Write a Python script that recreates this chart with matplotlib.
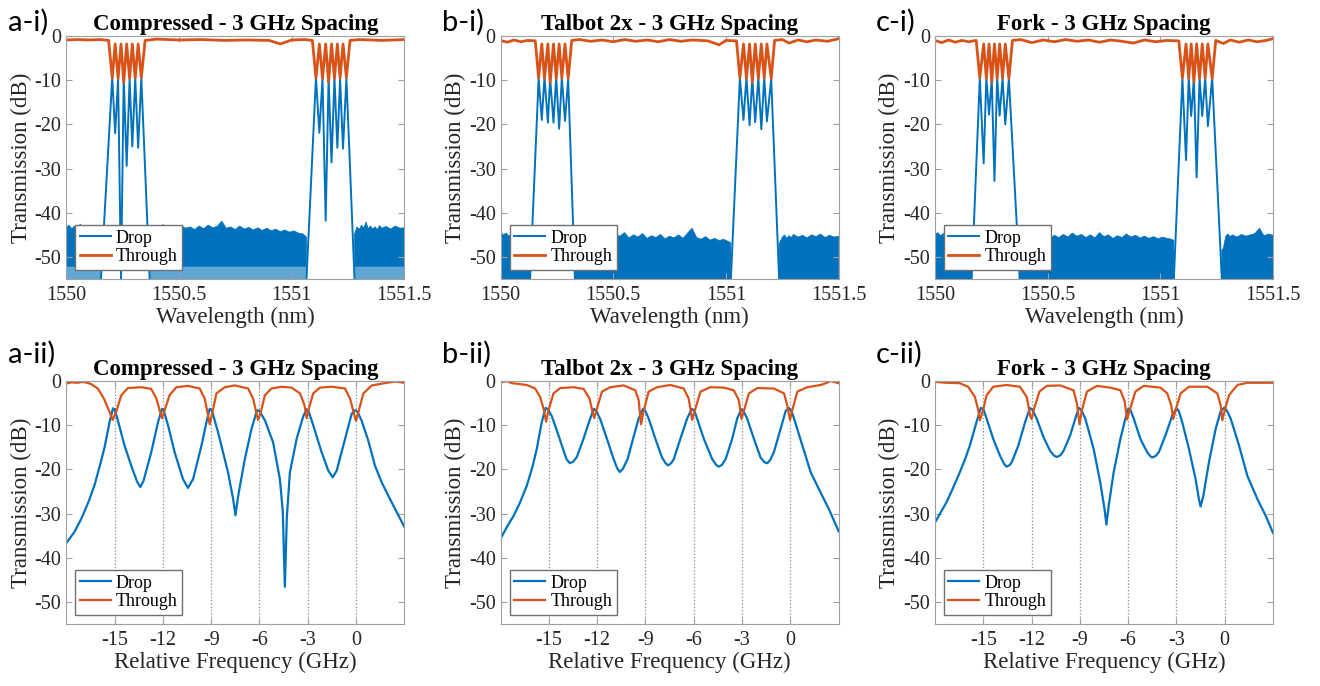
import numpy as np
import matplotlib
matplotlib.use('Agg')
import matplotlib.pyplot as plt

plt.rcParams['font.family'] = 'Liberation Serif'
plt.rcParams['axes.unicode_minus'] = False

BLUE = '#0072BD'
ORANGE = '#D95319'
FRAME = '#a0a0a0'
TXT = '#262626'

# ---------------- shared axes settings ----------------
wl_lim = [1550.0, 1551.5]
wl_ticks = [1550, 1550.5, 1551, 1551.5]
f_lim = [-18, 3]
f_ticks = [-15, -12, -9, -6, -3, 0]
db_lim = [-55, 0]
db_ticks = [-50, -40, -30, -20, -10, 0]
hump_db = -1.8
GAP = (np.nan, np.nan)

titles = ['Compressed - 3 GHz Spacing', 'Talbot 2x - 3 GHz Spacing', 'Fork - 3 GHz Spacing']
tags_top = ['a-i)', 'b-i)', 'c-i)']
tags_bot = ['a-ii)', 'b-ii)', 'c-ii)']

# ---------------- a-i (wavelength) ----------------
a1_peak_wl = [1550.204, 1550.230, 1550.255, 1550.281, 1550.306, 1550.333,
              1551.108, 1551.137, 1551.164, 1551.190, 1551.215, 1551.243]
a1_peak_db = [-9.4, -9.6, -9.4, -9.7, -9.5, -9.4, -9.4, -9.5, -9.6, -9.4, -9.7, -9.5]
a1_dip_wl = [1550.217, 1550.243, 1550.268, 1550.293, 1550.319,
             1551.123, 1551.151, 1551.177, 1551.203, 1551.228]
a1_dip_db = [-22.0, -55.0, -29.4, -25.0, -25.3, -21.9, -41.8, -28.6, -25.3, -25.5]
a1_foot_wl = [1550.154, 1550.370, 1551.066, 1551.279]
a1_thr_dip = [-9.5, -9.6, -10.5, -9.6, -9.5, -9.4, -9.5, -9.6, -10.4, -9.6, -9.5, -9.4]
a1_base = [(1550.0, -0.9), (1550.05, -0.8), (1550.10, -0.9), (1550.15, -0.8), (1550.188, -1.0), GAP,
           (1550.350, -1.0), (1550.40, -0.7), (1550.5, -0.9), (1550.6, -0.8), (1550.7, -1.0),
           (1550.8, -0.9), (1550.9, -1.0), (1550.95, -1.8), (1551.0, -0.9), (1551.06, -0.8),
           (1551.092, -1.0), GAP,
           (1551.259, -1.0), (1551.3, -0.8), (1551.4, -1.0), (1551.5, -0.8)]
a1_noise = [(1550.0, -43.4), (1550.012, -42.8), (1550.025, -43.6), (1550.037, -43.0), (1550.05, -43.5),
            (1550.062, -42.6), (1550.075, -43.3), (1550.088, -43.8), (1550.10, -43.1), (1550.112, -43.6),
            (1550.125, -42.9), (1550.138, -43.5), (1550.15, -43.8), (1550.154, -44.0), GAP,
            (1550.37, -43.8), (1550.39, -43.0), (1550.41, -43.6), (1550.43, -42.7), (1550.45, -43.4),
            (1550.47, -43.1), (1550.49, -43.7), (1550.51, -42.9), (1550.53, -43.5), (1550.55, -43.2),
            (1550.57, -43.8), (1550.59, -43.0), (1550.61, -43.6), (1550.63, -42.8), (1550.65, -43.4),
            (1550.67, -43.1), (1550.69, -41.9), (1550.71, -43.5), (1550.73, -43.2), (1550.75, -43.8),
            (1550.77, -43.0), (1550.79, -43.7), (1550.81, -43.3), (1550.83, -43.9), (1550.85, -43.4),
            (1550.87, -44.0), (1550.89, -43.5), (1550.91, -44.1), (1550.93, -43.7), (1550.95, -44.3),
            (1550.97, -43.9), (1550.99, -44.4), (1551.01, -44.1), (1551.03, -44.6), (1551.05, -44.8),
            (1551.066, -45.5), GAP,
            (1551.279, -44.8), (1551.29, -43.2), (1551.30, -43.8), (1551.31, -42.8), (1551.32, -43.5),
            (1551.33, -42.1), (1551.34, -43.6), (1551.35, -43.0), (1551.36, -43.7), (1551.37, -43.2),
            (1551.38, -43.8), (1551.39, -42.9), (1551.40, -43.5), (1551.42, -43.1), (1551.44, -43.7),
            (1551.46, -43.0), (1551.48, -43.5), (1551.50, -43.4)]
a1_noise_solid = -52.2

# ---------------- b-i (wavelength) ----------------
b1_peak_wl = [1550.169, 1550.195, 1550.220, 1550.247, 1550.272, 1550.300,
              1551.062, 1551.091, 1551.117, 1551.144, 1551.170, 1551.201]
b1_peak_db = [-9.6, -9.3, -9.5, -9.3, -9.4, -9.7, -9.5, -9.3, -9.6, -9.4, -9.4, -9.7]
b1_dip_wl = [1550.183, 1550.210, 1550.235, 1550.260, 1550.286,
             1551.078, 1551.105, 1551.130, 1551.157, 1551.182]
b1_dip_db = [-19.0, -19.6, -19.6, -21.0, -19.2, -19.0, -20.2, -19.5, -21.1, -19.3]
b1_foot_wl = [1550.131, 1550.330, 1551.022, 1551.236]
b1_thr_dip = [-9.5, -9.6, -10.5, -9.6, -9.5, -9.6, -9.5, -9.6, -10.4, -9.6, -9.5, -9.6]
b1_base = [(1550.0, -1.0), (1550.03, -1.4), (1550.06, -0.9), (1550.09, -1.3), (1550.12, -1.0),
           (1550.154, -1.1), GAP,
           (1550.316, -1.0), (1550.35, -0.8), (1550.40, -1.2), (1550.45, -0.9), (1550.5, -1.3),
           (1550.55, -0.8), (1550.6, -1.2), (1550.65, -0.9), (1550.7, -1.3), (1550.75, -0.8),
           (1550.8, -1.2), (1550.85, -0.9), (1550.92, -1.1), (1550.97, -2.0), (1551.0, -1.0),
           (1551.047, -1.1), GAP,
           (1551.216, -1.0), (1551.25, -0.8), (1551.28, -1.6), (1551.32, -0.9), (1551.36, -1.3),
           (1551.4, -0.9), (1551.45, -1.2), (1551.5, -0.6)]
b1_noise = [(1550.0, -44.4), (1550.012, -45.0), (1550.025, -44.6), (1550.037, -45.3), (1550.05, -44.7),
            (1550.062, -45.1), (1550.075, -44.5), (1550.088, -45.2), (1550.10, -44.8), (1550.112, -45.4),
            (1550.125, -44.9), (1550.131, -45.3), GAP,
            (1550.33, -45.0), (1550.35, -44.1), (1550.37, -45.2), (1550.39, -44.6), (1550.41, -45.4),
            (1550.43, -44.3), (1550.45, -45.1), (1550.47, -44.8), (1550.49, -45.6), (1550.51, -44.9),
            (1550.53, -45.3), (1550.55, -44.5), (1550.57, -45.7), (1550.59, -45.0), (1550.61, -45.5),
            (1550.63, -44.7), (1550.65, -45.8), (1550.67, -45.2), (1550.69, -45.6), (1550.71, -44.9),
            (1550.73, -45.9), (1550.75, -45.3), (1550.77, -45.7), (1550.79, -45.0), (1550.81, -45.8),
            (1550.83, -44.6), (1550.85, -43.5), (1550.87, -45.6), (1550.89, -46.0), (1550.91, -45.4),
            (1550.93, -46.2), (1550.95, -45.8), (1550.97, -46.3), (1550.99, -46.0), (1551.01, -46.5),
            (1551.022, -46.8), GAP,
            (1551.236, -47.0), (1551.25, -45.6), (1551.26, -45.0), (1551.27, -45.8), (1551.28, -45.2),
            (1551.29, -45.6), (1551.30, -44.9), (1551.32, -45.5), (1551.34, -45.1), (1551.36, -45.7),
            (1551.38, -45.0), (1551.40, -45.4), (1551.42, -44.8), (1551.44, -45.6), (1551.46, -45.1),
            (1551.48, -45.5), (1551.50, -45.3)]
b1_noise_solid = -55.0

# ---------------- c-i (wavelength) ----------------
c1_peak_wl = [1550.199, 1550.228, 1550.252, 1550.276, 1550.300, 1550.328,
              1551.098, 1551.126, 1551.149, 1551.174, 1551.199, 1551.230]
c1_peak_db = [-9.5, -9.4, -9.6, -9.4, -9.5, -9.6, -9.6, -9.4, -9.5, -9.4, -9.6, -9.5]
c1_dip_wl = [1550.216, 1550.240, 1550.264, 1550.287, 1550.312,
             1551.114, 1551.137, 1551.161, 1551.186, 1551.211]
c1_dip_db = [-28.8, -17.8, -32.8, -18.0, -20.0, -28.1, -18.1, -32.0, -18.1, -20.4]
c1_foot_wl = [1550.163, 1550.376, 1551.060, 1551.273]
c1_thr_dip = [-9.5, -9.6, -10.4, -9.6, -9.5, -9.6, -9.5, -9.6, -10.4, -9.6, -9.5, -9.6]
c1_base = [(1550.0, -1.0), (1550.03, -1.5), (1550.06, -0.9), (1550.09, -1.4), (1550.12, -1.0),
           (1550.15, -1.3), (1550.183, -1.0), GAP,
           (1550.344, -1.0), (1550.38, -0.8), (1550.43, -1.5), (1550.48, -0.9), (1550.53, -1.3),
           (1550.58, -0.8), (1550.63, -1.2), (1550.68, -0.9), (1550.73, -1.4), (1550.78, -0.9),
           (1550.83, -1.2), (1550.88, -1.6), (1550.93, -0.9), (1550.98, -1.3), (1551.03, -1.0),
           (1551.082, -1.1), GAP,
           (1551.246, -1.0), (1551.28, -1.7), (1551.31, -0.9), (1551.35, -1.4), (1551.39, -0.9),
           (1551.43, -1.3), (1551.47, -1.0), (1551.5, -0.6)]
c1_noise = [(1550.0, -45.0), (1550.012, -44.5), (1550.025, -45.2), (1550.037, -44.7), (1550.05, -45.1),
            (1550.062, -44.6), (1550.075, -45.3), (1550.088, -44.8), (1550.10, -45.0), (1550.112, -44.5),
            (1550.125, -45.2), (1550.138, -44.9), (1550.15, -45.1), (1550.163, -45.4), GAP,
            (1550.376, -44.2), (1550.39, -45.3), (1550.41, -44.8), (1550.43, -45.6), (1550.45, -45.0),
            (1550.47, -45.7), (1550.49, -45.2), (1550.51, -45.8), (1550.53, -45.1), (1550.55, -45.6),
            (1550.57, -44.9), (1550.59, -45.5), (1550.61, -44.6), (1550.63, -45.3), (1550.65, -44.9),
            (1550.67, -45.6), (1550.69, -45.0), (1550.71, -45.7), (1550.73, -44.5), (1550.75, -45.4),
            (1550.77, -45.0), (1550.79, -45.8), (1550.81, -45.2), (1550.83, -45.6), (1550.85, -44.8),
            (1550.87, -45.5), (1550.89, -45.1), (1550.91, -45.7), (1550.93, -45.3), (1550.95, -45.8),
            (1550.97, -45.4), (1550.99, -45.9), (1551.01, -45.5), (1551.03, -45.8), (1551.05, -46.0),
            (1551.06, -46.3), GAP,
            (1551.273, -48.5), (1551.28, -48.0), (1551.29, -45.3), (1551.30, -44.8), (1551.31, -45.4),
            (1551.32, -45.0), (1551.34, -45.5), (1551.36, -44.9), (1551.38, -45.3), (1551.40, -45.0),
            (1551.42, -44.7), (1551.44, -43.5), (1551.46, -45.2), (1551.48, -44.8), (1551.50, -45.1)]
c1_noise_solid = -55.0

# ---------------- a-ii (relative frequency) ----------------
a2_drop = [(-18.0, -36.7), (-17.5, -34.2), (-17.07, -31.2), (-16.6, -27.2), (-16.24, -23.5),
           (-15.9, -19.0), (-15.62, -15.0), (-15.31, -9.3), (-15.1, -6.2), (-15.0, -6.4),
           (-14.79, -9.0), (-14.38, -14.6), (-13.96, -19.2), (-13.6, -22.8), (-13.4, -24.0),
           (-13.2, -22.6), (-12.72, -16.1), (-12.3, -9.3), (-12.05, -6.3), (-11.95, -6.6),
           (-11.68, -10.0), (-11.27, -16.1), (-10.75, -22.2), (-10.44, -24.2), (-10.12, -22.2),
           (-9.6, -14.6), (-9.29, -9.3), (-9.09, -6.3), (-8.95, -6.7), (-8.57, -11.6),
           (-7.95, -20.7), (-7.63, -26.8), (-7.49, -30.4), (-7.32, -26.0), (-6.91, -17.7),
           (-6.49, -10.8), (-6.15, -6.6), (-6.0, -6.8), (-5.66, -8.9), (-5.15, -13.9),
           (-4.73, -22.2), (-4.55, -29.5), (-4.42, -46.6), (-4.3, -31.0), (-4.11, -20.7),
           (-3.69, -13.1), (-3.28, -8.0), (-3.07, -6.4), (-2.95, -6.8), (-2.66, -10.0),
           (-2.14, -16.1), (-1.72, -20.3), (-1.45, -21.8), (-1.2, -20.3), (-0.68, -13.1),
           (-0.27, -7.4), (-0.05, -6.6), (0.1, -7.0), (0.35, -9.0), (0.77, -13.6),
           (1.18, -19.2), (1.6, -23.0), (2.22, -27.5), (3.0, -33.0)]
a2_thr = [(-18.0, -0.6), (-17.7, -0.3), (-17.3, -0.4), (-17.0, -0.2), (-16.7, -0.4),
          (-16.45, -0.7), (-16.04, -1.7), (-15.66, -4.0), (-15.31, -7.0), (-15.12, -8.8),
          (-14.9, -7.0), (-14.58, -3.2), (-14.17, -1.6), (-13.34, -1.4), (-12.72, -1.8),
          (-12.4, -4.0), (-12.2, -6.6), (-12.05, -8.4), (-11.89, -6.6), (-11.58, -3.2),
          (-11.16, -1.4), (-10.44, -1.1), (-9.71, -1.7), (-9.4, -4.0), (-9.19, -7.8),
          (-9.09, -9.8), (-8.94, -7.4), (-8.67, -2.8), (-8.15, -1.4), (-7.53, -1.0),
          (-6.7, -1.7), (-6.39, -4.0), (-6.18, -7.4), (-6.08, -8.8), (-5.91, -7.0),
          (-5.66, -3.2), (-5.25, -1.7), (-4.63, -1.3), (-4.0, -1.5), (-3.48, -2.8),
          (-3.2, -5.5), (-3.07, -8.4), (-2.93, -6.2), (-2.66, -2.8), (-2.24, -1.5),
          (-1.51, -1.3), (-0.68, -1.7), (-0.37, -4.0), (-0.1, -7.8), (0.0, -9.0),
          (0.15, -7.0), (0.46, -2.8), (0.98, -1.0), (1.6, -0.6), (2.1, -0.3),
          (2.43, -0.1), (3.0, -0.4)]

# ---------------- b-ii (relative frequency) ----------------
b2_drop = [(-17.97, -35.5), (-17.6, -33.0), (-17.2, -30.6), (-16.8, -27.6), (-16.37, -23.7),
           (-16.0, -19.2), (-15.75, -15.4), (-15.44, -9.3), (-15.2, -6.1), (-15.05, -6.4),
           (-14.81, -8.0), (-14.4, -12.3), (-14.1, -15.6), (-13.9, -17.7), (-13.7, -18.6),
           (-13.5, -18.3), (-13.26, -17.2), (-12.85, -13.1), (-12.43, -8.5), (-12.2, -6.3),
           (-12.05, -6.8), (-11.8, -8.7), (-11.39, -13.1), (-10.97, -17.7), (-10.75, -19.8),
           (-10.6, -20.6), (-10.4, -19.9), (-10.1, -17.6), (-9.83, -13.9), (-9.42, -8.5),
           (-9.15, -6.3), (-9.0, -6.8), (-8.8, -8.5), (-8.38, -13.1), (-7.97, -17.3),
           (-7.75, -18.6), (-7.59, -19.1), (-7.4, -18.6), (-7.24, -17.7), (-6.83, -13.1),
           (-6.41, -8.5), (-6.12, -6.3), (-5.95, -6.8), (-5.79, -8.5), (-5.37, -13.1),
           (-4.85, -17.7), (-4.6, -19.0), (-4.44, -19.4), (-4.25, -19.0), (-4.02, -17.7),
           (-3.61, -13.1), (-3.3, -8.5), (-3.05, -6.4), (-2.9, -6.9), (-2.68, -8.5),
           (-2.26, -13.1), (-1.85, -17.3), (-1.6, -18.4), (-1.43, -18.6), (-1.25, -17.9),
           (-1.02, -16.1), (-0.6, -10.8), (-0.29, -6.8), (-0.08, -6.1), (0.1, -7.0),
           (0.23, -8.5), (0.75, -14.6), (1.27, -20.7), (1.89, -25.3), (2.41, -29.1),
           (3.0, -34.0)]
b2_thr = [(-17.97, -0.3), (-17.6, 0.0), (-17.3, -0.5), (-17.0, -0.6), (-16.6, -0.8),
          (-16.37, -0.9), (-15.85, -1.7), (-15.54, -3.6), (-15.33, -6.2), (-15.17, -9.2),
          (-15.02, -6.6), (-14.71, -2.8), (-14.29, -1.6), (-13.46, -1.4), (-12.84, -1.8),
          (-12.47, -4.0), (-12.26, -7.4), (-12.18, -8.4), (-12.01, -6.2), (-11.7, -2.4),
          (-11.18, -1.4), (-10.35, -1.0), (-9.63, -2.1), (-9.42, -4.3), (-9.27, -9.8),
          (-9.1, -6.6), (-8.8, -2.4), (-8.28, -1.4), (-7.45, -0.9), (-6.62, -1.7),
          (-6.31, -4.0), (-6.1, -8.8), (-5.89, -6.2), (-5.58, -2.4), (-4.96, -1.4),
          (-4.13, -1.5), (-3.51, -2.1), (-3.2, -4.3), (-3.03, -8.6), (-2.84, -6.2),
          (-2.57, -2.8), (-2.05, -1.6), (-1.02, -1.7), (-0.39, -2.8), (-0.19, -5.5),
          (-0.02, -8.8), (0.12, -6.6), (0.44, -2.4), (1.06, -1.4), (1.89, -0.9),
          (2.2, -0.5), (2.51, 0.0), (3.0, -0.5)]

# ---------------- c-ii (relative frequency) ----------------
c2_drop = [(-18.01, -32.1), (-17.65, -29.8), (-17.29, -27.5), (-16.9, -24.4), (-16.46, -20.7),
           (-16.1, -17.4), (-15.83, -14.6), (-15.42, -9.3), (-15.15, -6.1), (-15.0, -6.3),
           (-14.79, -8.5), (-14.38, -13.1), (-13.96, -16.9), (-13.7, -18.8), (-13.55, -19.4),
           (-13.35, -19.0), (-13.23, -18.4), (-12.82, -14.6), (-12.4, -9.3), (-12.1, -6.1),
           (-11.95, -6.5), (-11.68, -8.5), (-11.26, -12.7), (-10.85, -15.8), (-10.6, -16.9),
           (-10.43, -17.2), (-10.2, -16.8), (-10.01, -15.8), (-9.6, -12.3), (-9.22, -7.8),
           (-9.05, -6.1), (-8.9, -6.6), (-8.66, -8.5), (-8.14, -15.4), (-7.73, -23.0),
           (-7.46, -29.1), (-7.35, -32.5), (-7.21, -28.3), (-6.9, -20.7), (-6.48, -13.1),
           (-6.17, -8.5), (-5.98, -6.2), (-5.85, -6.6), (-5.65, -8.5), (-5.24, -13.1),
           (-4.82, -16.1), (-4.6, -17.1), (-4.51, -17.3), (-4.3, -17.0), (-4.09, -16.1),
           (-3.68, -12.3), (-3.26, -7.8), (-3.0, -6.2), (-2.85, -6.8), (-2.64, -9.3),
           (-2.22, -15.4), (-1.81, -22.2), (-1.6, -26.8), (-1.5, -28.4), (-1.33, -26.0),
           (-0.98, -18.4), (-0.56, -10.8), (-0.25, -6.8), (-0.02, -6.0), (0.15, -6.8),
           (0.37, -8.5), (0.89, -14.6), (1.41, -21.5), (2.04, -26.8), (2.56, -30.6),
           (3.0, -34.4)]
c2_thr = [(-18.0, -0.2), (-17.3, -0.4), (-16.46, -0.5), (-15.94, -1.3), (-15.52, -3.6),
          (-15.31, -6.6), (-15.21, -8.9), (-15.04, -7.0), (-14.79, -3.2), (-14.38, -1.3),
          (-13.55, -0.9), (-12.72, -1.3), (-12.3, -3.6), (-12.09, -7.8), (-11.99, -8.6),
          (-11.84, -6.2), (-11.51, -2.4), (-11.05, -1.1), (-10.22, -1.0), (-9.39, -2.1),
          (-9.18, -5.1), (-9.02, -9.8), (-8.87, -6.6), (-8.56, -2.4), (-7.94, -1.1),
          (-7.11, -1.5), (-6.48, -2.1), (-6.21, -4.7), (-6.07, -8.7), (-5.9, -6.6),
          (-5.55, -2.4), (-5.03, -1.1), (-3.99, -1.5), (-3.57, -2.8), (-3.32, -5.5),
          (-3.2, -8.6), (-3.05, -6.6), (-2.74, -2.8), (-2.22, -1.3), (-1.08, -1.3),
          (-0.46, -2.8), (-0.25, -5.5), (-0.15, -8.9), (0.0, -6.6), (0.27, -3.2),
          (0.79, -0.9), (1.41, -0.4), (2.2, -0.4), (3.0, -0.4)]


def drop_wl_curve(peak_wl, peak_db, dip_wl, dip_db, foot_wl):
    xs, ys = [], []
    for b in range(2):
        xs.append(foot_wl[2 * b]); ys.append(db_lim[0])
        for k in range(6):
            xs.append(peak_wl[6 * b + k]); ys.append(peak_db[6 * b + k])
            if k < 5:
                xs.append(dip_wl[5 * b + k]); ys.append(dip_db[5 * b + k])
        xs.append(foot_wl[2 * b + 1]); ys.append(db_lim[0])
        xs.append(np.nan); ys.append(np.nan)
    return xs, ys


def thr_wl_curve(base, peak_wl, thr_dip, dip_wl):
    # baseline pieces are split by GAP; the two bands go into the gaps
    xs, ys = [], []
    band = 0
    for x, y in base:
        if np.isnan(x):
            for k in range(6):
                xs.append(peak_wl[6 * band + k]); ys.append(thr_dip[6 * band + k])
                if k < 5:
                    xs.append(dip_wl[5 * band + k]); ys.append(hump_db)
            band += 1
        else:
            xs.append(x); ys.append(y)
    return xs, ys


def style_axes(ax, title):
    ax.set_ylim(db_lim)
    ax.set_yticks(db_ticks)
    ax.tick_params(direction='in', top=True, right=True, length=4, width=0.8,
                   color=FRAME, labelcolor=TXT, labelsize=14.5)
    ax.tick_params(axis='x', pad=5)
    for s in ax.spines.values():
        s.set_color(FRAME)
        s.set_linewidth(0.8)
    ax.set_title(title, fontsize=16.5, fontweight='bold', pad=4, color='black')
    ax.set_ylabel('Transmission (dB)', fontsize=16.5, color=TXT, labelpad=2)
    ax.legend(loc='lower left', fontsize=13, fancybox=False, framealpha=1,
              edgecolor='#707070', handlelength=1.7, handletextpad=0.3,
              borderpad=0.25, labelspacing=0.1, borderaxespad=0.5)


fig = plt.figure(figsize=(13.2, 6.86), dpi=100)
lefts = [0.0502, 0.3792, 0.7083]
w, h = 0.2561, 0.3542

top_sets = [
    (a1_peak_wl, a1_peak_db, a1_dip_wl, a1_dip_db, a1_foot_wl, a1_thr_dip, a1_base, a1_noise, a1_noise_solid),
    (b1_peak_wl, b1_peak_db, b1_dip_wl, b1_dip_db, b1_foot_wl, b1_thr_dip, b1_base, b1_noise, b1_noise_solid),
    (c1_peak_wl, c1_peak_db, c1_dip_wl, c1_dip_db, c1_foot_wl, c1_thr_dip, c1_base, c1_noise, c1_noise_solid),
]

for i, (pk, pkdb, dw, ddb, ft, tdip, base, noise, nsolid) in enumerate(top_sets):
    ax = fig.add_axes([lefts[i], 0.5933, w, h])
    nw, ntop = np.array(noise).T
    ax.fill_between(nw, nsolid, ntop, color=BLUE, lw=0.5, edgecolor=BLUE)
    if nsolid > db_lim[0]:
        ax.fill_between(nw, db_lim[0], nsolid, color=BLUE, alpha=0.62, lw=0)
    dx, dy = drop_wl_curve(pk, pkdb, dw, ddb, ft)
    ax.plot(dx, dy, color=BLUE, lw=1.4, label='Drop')
    tx, ty = thr_wl_curve(base, pk, tdip, dw)
    ax.plot(tx, ty, color=ORANGE, lw=2.0, label='Through')
    ax.set_xlim(wl_lim)
    ax.set_xticks(wl_ticks, labels=['{:g}'.format(t) for t in wl_ticks])
    ax.set_xlabel('Wavelength (nm)', fontsize=16.5, color=TXT, labelpad=1)
    style_axes(ax, titles[i])
    fig.text(lefts[i] - 0.0445, 0.9870, tags_top[i], fontfamily='Lato', fontsize=21, va='top')

bot_sets = [(a2_drop, a2_thr), (b2_drop, b2_thr), (c2_drop, c2_thr)]
for i, (drop, thr) in enumerate(bot_sets):
    ax = fig.add_axes([lefts[i], 0.0904, w, h])
    df, ddb = np.array(drop).T
    tf, tdb = np.array(thr).T
    ax.plot(df, ddb, color=BLUE, lw=1.6, label='Drop')
    ax.plot(tf, tdb, color=ORANGE, lw=1.6, label='Through')
    ax.set_xlim(f_lim)
    ax.set_xticks(f_ticks, labels=[str(t) for t in f_ticks])
    ax.grid(axis='x', linestyle=':', color='#8a8a8a', lw=0.9)
    ax.set_axisbelow(True)
    ax.set_xlabel('Relative Frequency (GHz)', fontsize=16.5, color=TXT, labelpad=1)
    style_axes(ax, titles[i])
    fig.text(lefts[i] - 0.0445, 0.5030, tags_bot[i], fontfamily='Lato', fontsize=21, va='top')

fig.savefig('out.png', dpi=100, facecolor='white')
